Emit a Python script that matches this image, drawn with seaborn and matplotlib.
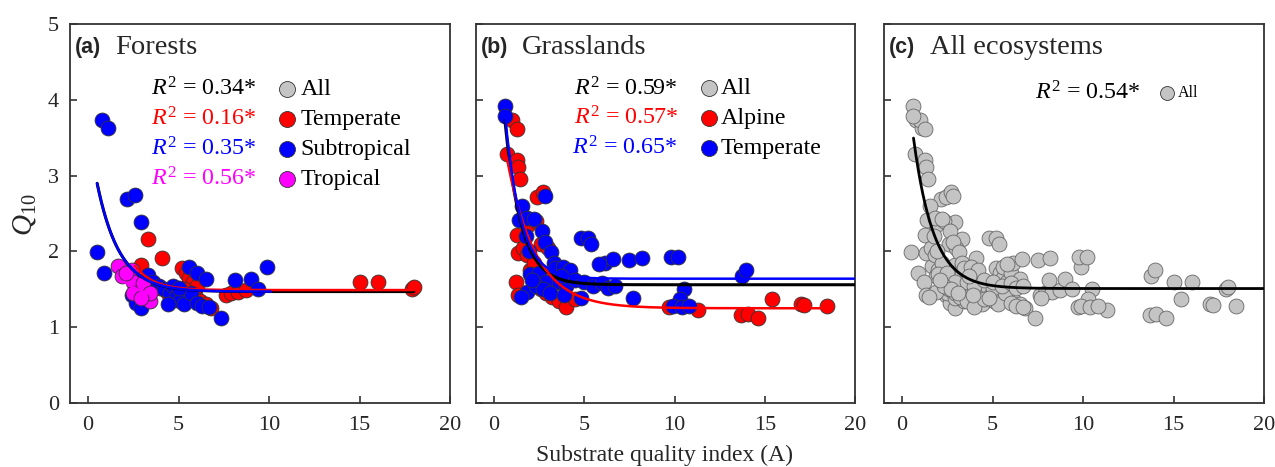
import numpy as np
import pandas as pd
import matplotlib
matplotlib.use("Agg")
import matplotlib.pyplot as plt
import seaborn as sns

sns.set_style("ticks")
plt.rcParams['font.family'] = ['Liberation Serif', 'DejaVu Serif']
plt.rcParams['mathtext.fontset'] = 'custom'
plt.rcParams['mathtext.rm'] = 'Liberation Serif'
plt.rcParams['mathtext.it'] = 'Liberation Serif:italic'

# ---------------- data ----------------
# Forests
forest_temperate_x = [2.9, 3.3, 4.1, 3.6, 4.0, 4.4, 4.8, 5.0, 5.2, 5.4, 5.6, 5.8, 5.5, 5.9, 6.2, 6.5,
                      6.8, 6.0, 7.6, 7.9, 8.3, 8.7, 4.6, 5.3, 15.0, 16.0, 17.9, 18.0]
forest_temperate_y = [1.82, 2.16, 1.91, 1.55, 1.52, 1.45, 1.40, 1.38, 1.78, 1.72, 1.65, 1.60, 1.45, 1.42, 1.35, 1.30,
                      1.25, 1.55, 1.43, 1.45, 1.47, 1.49, 1.35, 1.50, 1.60, 1.59, 1.50, 1.53]
forest_subtropical_x = [0.5, 0.75, 1.1, 0.9, 2.15, 2.6, 2.9, 2.4, 2.65, 2.95, 3.3, 3.6, 3.9, 4.2, 4.5, 4.7,
                        4.9, 5.1, 5.3, 5.6, 6.0, 6.5, 5.7, 6.0, 6.3, 6.7, 7.35, 8.1, 9.0, 9.4, 9.9, 4.4,
                        3.1, 2.7, 5.0]
forest_subtropical_y = [1.99, 3.74, 3.63, 1.72, 2.69, 2.75, 2.39, 1.43, 1.32, 1.25, 1.69, 1.60, 1.55, 1.50, 1.45, 1.55,
                        1.42, 1.35, 1.30, 1.80, 1.71, 1.64, 1.45, 1.32, 1.28, 1.26, 1.12, 1.62, 1.64, 1.51, 1.80, 1.30,
                        1.40, 1.58, 1.52]
forest_tropical_x = [1.65, 1.85, 2.45, 2.5, 2.5, 3.05, 3.4, 3.4, 2.1, 2.9]
forest_tropical_y = [1.81, 1.67, 1.76, 1.60, 1.45, 1.58, 1.34, 1.45, 1.72, 1.38]

# Grasslands
grass_alpine_x = [0.7, 1.0, 1.25, 1.25, 1.3, 1.45, 2.4, 2.7, 1.25, 1.3, 1.2, 1.3, 1.6, 1.8, 2.0, 2.2,
                  2.4, 2.6, 2.9, 3.2, 3.6, 4.0, 2.6, 3.0, 3.3, 3.5, 2.2, 1.9, 2.3, 4.5, 9.7, 11.3,
                  13.7, 14.05, 14.6, 15.4, 17.0, 17.2, 18.45, 10.2]
grass_alpine_y = [3.28, 3.73, 3.62, 3.20, 3.12, 2.96, 2.72, 2.78, 2.22, 1.98, 1.60, 1.42, 2.05, 1.95, 1.75, 1.65,
                  1.55, 1.50, 1.45, 1.40, 1.35, 1.27, 2.10, 2.05, 1.80, 1.60, 1.85, 2.35, 2.40, 1.37, 1.27, 1.23,
                  1.16, 1.17, 1.12, 1.37, 1.31, 1.29, 1.28, 1.29]
grass_temperate_x = [0.6, 0.6, 1.55, 1.4, 1.8, 2.2, 2.8, 2.65, 1.75, 2.8, 1.95, 3.15, 3.3, 4.8, 5.2, 5.35,
                     6.15, 6.6, 7.5, 8.2, 9.8, 10.2, 13.75, 13.95, 7.7, 1.85, 4.8, 2.0, 2.5, 2.9, 3.4, 3.8,
                     4.2, 2.3, 2.7, 3.6, 4.0, 4.5, 5.0, 5.5, 6.0, 6.3, 6.7, 3.1, 3.9, 10.5, 10.3, 9.9,
                     10.4, 10.8, 2.1, 3.7, 5.8, 1.5]
grass_temperate_y = [3.92, 3.78, 2.60, 2.42, 2.44, 2.43, 2.73, 2.27, 2.20, 2.12, 2.01, 1.99, 1.85, 2.18, 2.18, 2.10,
                     1.85, 1.90, 1.88, 1.91, 1.92, 1.92, 1.67, 1.75, 1.39, 1.46, 1.39, 1.70, 1.72, 1.60, 1.78, 1.80,
                     1.75, 1.55, 1.50, 1.60, 1.55, 1.62, 1.60, 1.55, 1.58, 1.52, 1.55, 1.45, 1.42, 1.51, 1.37, 1.28,
                     1.27, 1.28, 1.62, 1.68, 1.83, 1.40]

# fitted curves: y = a + b*exp(-c*x) over [x0, x1]
fit_forest = {"All": (1.47, 2.14, 0.81, 0.5, 18.0), "Temperate": (1.49, 4.2, 0.99, 2.6, 18.0),
              "Subtropical": (1.47, 2.14, 0.81, 0.5, 10.1), "Tropical": (1.30, 0.9, 0.55, 2.0, 3.5)}
fit_grass = {"All": (1.56, 4.2, 1.10, 0.6, 20.0), "Alpine": (1.25, 3.1, 0.63, 0.7, 18.5),
             "Temperate": (1.64, 4.38, 1.16, 0.6, 20.0)}
fit_all = {"All": (1.51, 3.5, 0.90, 0.63, 20.0)}

r2_forest = ["0.34", "0.16", "0.35", "0.56"]
r2_grass = ["0.59", "0.57", "0.65"]
r2_all = ["0.54"]

RED, BLUE, MAG, GRAY, BLACK = "#ff0000", "#0000ff", "#ff00ff", "#c4c4c4", "#000000"

fig = plt.figure(figsize=(12.75, 4.67), dpi=100)
W, H = 1275, 467
def ax_at(l, r, t=24, b=403):
    return fig.add_axes([l / W, 1 - b / H, (r - l) / W, (b - t) / H])

axA = ax_at(70, 450)
axB = ax_at(476, 855)
axC = ax_at(884, 1264)

def scatter(ax, xs, ys, color, size=115, edge="#333333"):
    df = pd.DataFrame({"x": xs, "y": ys})
    sns.scatterplot(data=df, x="x", y="y", ax=ax, color=color, s=size,
                    edgecolor=edge, linewidth=0.6, legend=False, zorder=3)

def curve(ax, params, color, lw=1.8):
    a, b, c, x0, x1 = params
    xx = np.linspace(x0, x1, 300)
    df = pd.DataFrame({"x": xx, "y": a + b * np.exp(-c * xx)})
    sns.lineplot(data=df, x="x", y="y", ax=ax, color=color, lw=lw, zorder=4)

# Panel A
scatter(axA, forest_temperate_x, forest_temperate_y, RED)
scatter(axA, forest_subtropical_x, forest_subtropical_y, BLUE)
scatter(axA, forest_tropical_x, forest_tropical_y, MAG)
curve(axA, fit_forest["All"], BLACK, 2.2)
curve(axA, fit_forest["Temperate"], RED)
curve(axA, fit_forest["Subtropical"], BLUE)
curve(axA, fit_forest["Tropical"], MAG)

# Panel B
scatter(axB, grass_alpine_x, grass_alpine_y, RED)
scatter(axB, grass_temperate_x, grass_temperate_y, BLUE)
curve(axB, fit_grass["All"], BLACK, 2.2)
curve(axB, fit_grass["Alpine"], RED)
curve(axB, fit_grass["Temperate"], BLUE)

# Panel C
all_x = forest_temperate_x + forest_subtropical_x + forest_tropical_x + grass_alpine_x + grass_temperate_x
all_y = forest_temperate_y + forest_subtropical_y + forest_tropical_y + grass_alpine_y + grass_temperate_y
scatter(axC, all_x, all_y, GRAY, edge="#666666")
curve(axC, fit_all["All"], BLACK, 2.0)

for ax in (axA, axB, axC):
    ax.set_xlim(-1, 20)
    ax.set_ylim(0, 5)
    ax.set_xticks([0, 5, 10, 15, 20])
    ax.set_yticks([0, 1, 2, 3, 4, 5])
    ax.tick_params(direction="in", length=5, width=1.2, labelsize=16, color="#333333")
    ax.tick_params(axis="x", pad=9)
    ax.tick_params(axis="y", pad=8)
    ax.set_xlabel("")
    ax.set_ylabel("")
    for s in ax.spines.values():
        s.set_visible(True)
        s.set_linewidth(1.3)
        s.set_color("#333333")
for ax in (axB, axC):
    ax.tick_params(labelleft=False)

# titles
def title(ax, tag, name):
    ax.text(0.012, 0.937, tag, transform=ax.transAxes, fontsize=15.5, fontweight="bold",
            family=["Liberation Sans"], va="center", ha="left")
    ax.text(0.12, 0.937, name, transform=ax.transAxes, fontsize=20.5, va="center", ha="left")

title(axA, "(a)", "Forests")
title(axB, "(b)", "Grasslands")
title(axC, "(c)", "All ecosystems")

def legend(ax, r2s, labels, colors, xr, xm, xl, y0, dy=0.079, fs=17.3, ms=11.5,
           mcolors=None, lfs=None):
    for i, (r, lab, col) in enumerate(zip(r2s, labels, colors)):
        y = y0 - i * dy
        ax.text(xr, y, r"$R^2$ = " + r + "*", transform=ax.transAxes, color=col,
                fontsize=fs, ha="right", va="center")
        ax.plot([xm], [y], transform=ax.transAxes, marker="o", ms=ms,
                mfc=mcolors[i], mec="#333333", mew=0.6, ls="none", clip_on=False)
        ax.text(xl, y, lab, transform=ax.transAxes, color="black",
                fontsize=lfs or fs, ha="left", va="center")

legend(axA, r2_forest, ["All", "Temperate", "Subtropical", "Tropical"],
       [BLACK, RED, BLUE, MAG], 0.492, 0.571, 0.606, 0.828,
       mcolors=[GRAY, RED, BLUE, MAG])
legend(axB, r2_grass, ["All", "Alpine", "Temperate"],
       [BLACK, RED, BLUE], 0.533, 0.615, 0.646, 0.83,
       mcolors=[GRAY, RED, BLUE])
legend(axC, r2_all, ["All"], [BLACK], 0.674, 0.745, 0.772, 0.818,
       mcolors=[GRAY], ms=10, lfs=11.5)

fig.text(25 / W, 1 - 215 / H, r"$Q_{10}$", rotation=90, fontsize=21, ha="center", va="center")
fig.text(665 / W, 1 - 455 / H, "Substrate quality index (A)", fontsize=17, ha="center", va="center")

fig.savefig("out.png", dpi=100)
